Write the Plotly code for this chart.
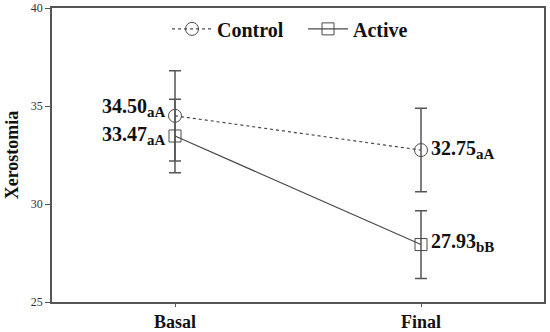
import plotly.graph_objects as go

categories = ["Basal", "Final"]
control_mean = [34.50, 32.75]
control_err = [2.30, 2.13]
control_sig = ["aA", "aA"]
active_mean = [33.47, 27.93]
active_err = [1.87, 1.73]
active_sig = ["aA", "bB"]
y_ticks = [25, 30, 35, 40]

FONT = "Liberation Serif, Times New Roman, serif"
LINE = "#4a4a4a"

fig = go.Figure()
fig.add_trace(go.Scatter(
    x=categories, y=control_mean, name="Control", mode="lines+markers",
    line=dict(color=LINE, width=1.2, dash="dot"),
    marker=dict(symbol="circle-open", size=13, color=LINE, line=dict(width=1)),
    error_y=dict(type="data", array=control_err, color="#555555", thickness=1.5, width=6),
))
fig.add_trace(go.Scatter(
    x=categories, y=active_mean, name="Active", mode="lines+markers",
    line=dict(color=LINE, width=1.2),
    marker=dict(symbol="square-open", size=12, color=LINE, line=dict(width=1)),
    error_y=dict(type="data", array=active_err, color="#555555", thickness=1.5, width=6),
))

# value labels
for means, sigs, yshifts in [(control_mean, control_sig, [8, 1]), (active_mean, active_sig, [0, 2])]:
    for i, (cat, m, s) in enumerate(zip(categories, means, sigs)):
        left = i == 0
        fig.add_annotation(
            x=cat, y=m,
            text=f"<b>{m:.2f}<sub><span style='font-size:15px'>{s}</span></sub></b>",
            showarrow=False,
            xanchor="right" if left else "left", xshift=-7 if left else 8,
            yshift=yshifts[i],
            font=dict(family=FONT, size=20, color="#111111"),
        )

fig.update_layout(
    width=550, height=332,
    margin=dict(l=52, r=6, t=8, b=30, autoexpand=False),
    paper_bgcolor="white", plot_bgcolor="white",
    font=dict(family=FONT, color="#111111"),
    showlegend=True,
    legend=dict(
        orientation="h", x=0.2338, xanchor="left", y=0.929, yanchor="middle",
        font=dict(family=FONT, size=20, color="#111111", weight="bold"),
        bgcolor="rgba(0,0,0,0)", itemwidth=40, tracegroupgap=0,
        entrywidth=81,
    ),
)
fig.update_xaxes(
    type="category", range=[-0.5, 1.5],
    showline=True, linecolor="#555555", linewidth=1.5, mirror=True,
    ticks="outside", ticklen=3, tickcolor="#555555",
    tickfont=dict(family=FONT, size=18, color="#111111", weight="bold"),
    showgrid=False, zeroline=False, automargin=False,
)
fig.update_yaxes(
    range=[25, 40], tickvals=y_ticks,
    showline=True, linecolor="#555555", linewidth=1.5, mirror=True,
    ticks="outside", ticklen=5, tickcolor="#555555",
    tickfont=dict(family=FONT, size=12, color="#333333"),
    title=dict(text="<b>Xerostomia</b>", font=dict(family=FONT, size=18, color="#111111"), standoff=8),
    showgrid=False, zeroline=False, automargin=False,
)
fig.write_html(
    "out.html",
    config={"displayModeBar": False},
    post_script="document.body.style.margin='0';document.body.style.overflow='hidden';",
)
